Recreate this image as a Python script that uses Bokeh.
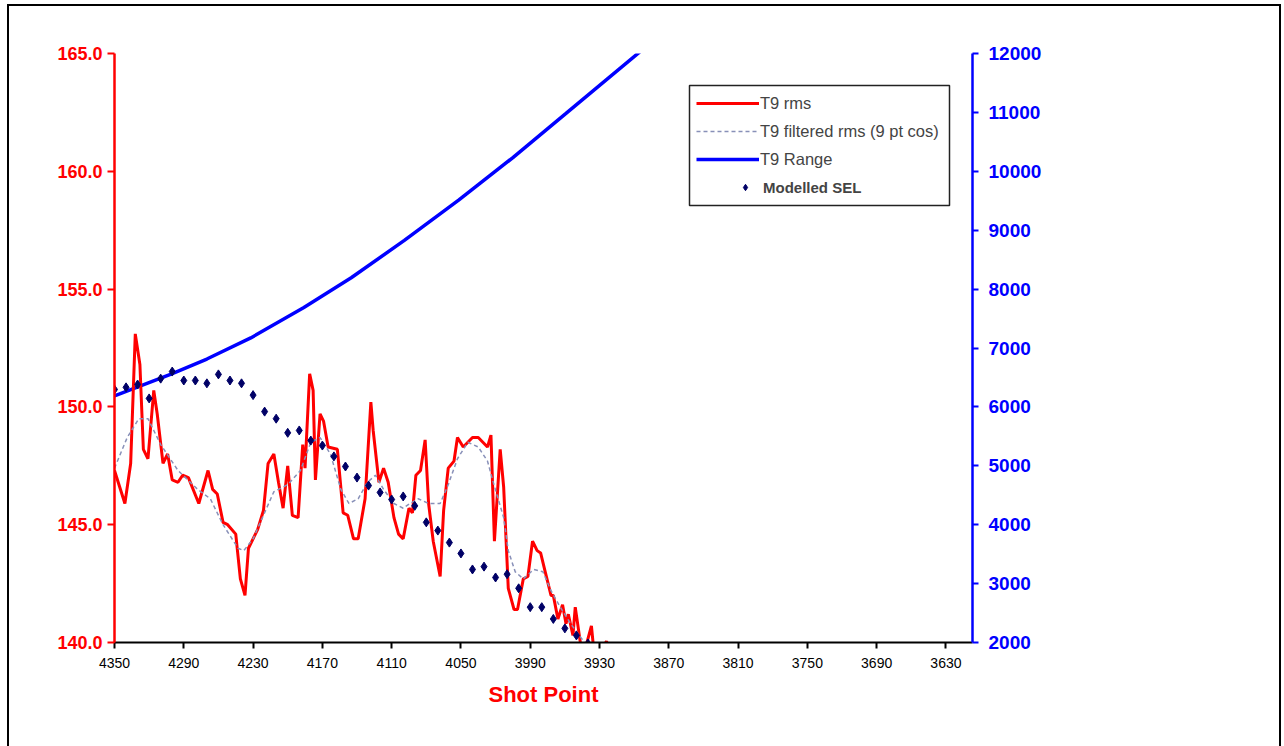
from bokeh.plotting import figure
from bokeh.models import (Range1d, LinearAxis, FixedTicker, PrintfTickFormatter,
                          Legend, LegendItem, BoxAnnotation)
from bokeh.embed import file_html
from bokeh.resources import INLINE

FONT = "Liberation Sans"
RED = "#ff0000"
BLUE = "#0000ff"
NAVY = "#000066"
DASH = "#8890b8"

# ---- data ----
rms_sp = [4350, 4341, 4336, 4332, 4328, 4325, 4321, 4316, 4313, 4308, 4304, 4300, 4295, 4291,
          4286, 4277, 4269, 4265, 4261, 4256, 4252, 4245, 4241, 4237, 4234, 4226, 4221, 4217,
          4212, 4208, 4204, 4200, 4196, 4191, 4187, 4185, 4181, 4178, 4176, 4172, 4169, 4165,
          4157, 4152, 4148, 4143, 4139, 4133, 4128, 4126, 4121, 4117, 4113, 4108, 4104, 4100,
          4095, 4092, 4089, 4085, 4081, 4078, 4074, 4068, 4065, 4061, 4056, 4053, 4048, 4044,
          4040, 4035, 4031, 4027, 4024, 4021, 4016, 4013, 4009, 4004, 4001, 3996, 3992, 3988,
          3984, 3981, 3977, 3972, 3970, 3966, 3962, 3959, 3957, 3953, 3951, 3946, 3942, 3937,
          3935, 3929, 3924, 3920]
rms_db = [147.3, 145.9, 147.6, 153.1, 151.8, 148.2, 147.8, 150.7, 149.7, 147.6, 148.0, 146.9,
          146.8, 147.1, 147.0, 145.9, 147.3, 146.5, 146.3, 145.1, 145.0, 144.6, 142.7, 142.0,
          144.0, 144.8, 145.6, 147.6, 148.0, 146.8, 145.7, 147.5, 145.4, 145.3, 148.4, 147.4,
          151.4, 150.7, 146.9, 149.7, 149.4, 148.3, 148.2, 145.5, 145.4, 144.4, 144.4, 146.1,
          150.2, 149.0, 146.8, 147.4, 146.8, 145.3, 144.6, 144.4, 145.7, 145.5, 147.1, 147.3,
          148.6, 145.9, 144.3, 142.8, 145.6, 147.4, 147.7, 148.7, 148.3, 148.5, 148.7, 148.7,
          148.5, 148.3, 148.8, 144.3, 148.2, 146.6, 142.3, 141.4, 141.4, 142.7, 142.8, 144.3,
          143.9, 143.8, 143.0, 142.0, 142.0, 141.0, 141.6, 140.8, 141.2, 140.3, 141.5, 139.8,
          139.8, 140.7, 139.7, 139.6, 140.05, 139.6]

filt_sp = [4350, 4339, 4329, 4321, 4310, 4295, 4278, 4267, 4256, 4243, 4238, 4230, 4221, 4212,
           4200, 4189, 4180, 4172, 4163, 4154, 4147, 4139, 4131, 4124, 4117, 4108, 4100, 4094,
           4087, 4078, 4068, 4061, 4053, 4044, 4035, 4027, 4022, 4013, 4009, 4003, 3996, 3987,
           3979, 3972, 3964, 3955, 3946, 3938]
filt_db = [147.4, 148.7, 149.5, 149.5, 148.4, 147.3, 146.5, 146.1, 145.0, 144.0, 143.9, 144.4,
           145.4, 146.4, 146.7, 147.3, 148.5, 148.7, 148.0, 146.5, 145.9, 146.1, 146.8, 147.1,
           146.5, 145.9, 145.7, 145.9, 146.1, 145.9, 145.9, 146.7, 147.8, 148.5, 148.3, 147.7,
           146.8, 145.3, 143.9, 143.0, 142.7, 143.1, 143.0, 142.2, 141.5, 140.8, 140.2, 139.7]

range_sp = [4350, 4301, 4270, 4232, 4186, 4145, 4099, 4052, 4005, 3959, 3892]
range_m = [6186, 6555, 6813, 7171, 7688, 8192, 8827, 9512, 10233, 10982, 12078]

sel_sp = [4350, 4340, 4330, 4320, 4310, 4300, 4290, 4280, 4270, 4260, 4250, 4240, 4230, 4220,
          4210, 4200, 4190, 4180, 4170, 4160, 4150, 4140, 4130, 4120, 4110, 4100, 4090, 4080,
          4070, 4060, 4050, 4040, 4030, 4020, 4010, 4000, 3990, 3980, 3970, 3960, 3950, 3940]
sel_db = [150.74, 150.83, 150.95, 150.36, 151.2, 151.5, 151.12, 151.12, 151.0, 151.38, 151.12,
          151.0, 150.5, 149.8, 149.5, 148.9, 149.0, 148.57, 148.36, 147.9, 147.47, 147.0, 146.66,
          146.37, 146.07, 146.2, 145.8, 145.1, 144.75, 144.24, 143.78, 143.1, 143.22, 142.76,
          142.9, 142.3, 141.5, 141.5, 141.0, 140.6, 140.3, 139.96]

x_ticks = [4350, 4290, 4230, 4170, 4110, 4050, 3990, 3930, 3870, 3810, 3750, 3690, 3630]
left_ticks = [140, 145, 150, 155, 160, 165]
right_ticks = [2000, 3000, 4000, 5000, 6000, 7000, 8000, 9000, 10000, 11000, 12000]

labels = ["T9 rms", "T9 filtered rms (9 pt cos)", "T9 Range", "Modelled SEL"]

# ---- figure ----
p = figure(width=1284, height=746, output_backend="svg", toolbar_location=None,
           x_range=Range1d(4350, 3607), y_range=Range1d(140, 165),
           min_border_left=114, min_border_right=312, min_border_top=53, min_border_bottom=104)
p.outline_line_color = None
p.xgrid.visible = False
p.ygrid.visible = False
p.background_fill_color = "white"
p.border_fill_color = None
# thin black frame around the whole picture (drawn behind the transparent canvas border)
p.styles = {
    "background-color": "white",
    "background-image": "linear-gradient(#000,#000), linear-gradient(#000,#000), linear-gradient(#000,#000)",
    "background-size": "2px 800px, 1274px 2px, 2px 800px",
    "background-position": "7px 4px, 7px 4px, 1279px 4px",
    "background-repeat": "no-repeat",
}

p.extra_y_ranges = {"rng": Range1d(2000, 12000), "cy": Range1d(642, 53)}
p.extra_x_ranges = {"cx": Range1d(114, 972)}

# bottom axis
xa = p.xaxis[0]
xa.ticker = FixedTicker(ticks=x_ticks)
xa.axis_line_color = "black"
xa.axis_line_width = 2
xa.major_tick_line_color = "black"
xa.major_tick_line_width = 2
xa.major_tick_out = 6
xa.major_tick_in = 0
xa.minor_tick_line_color = None
xa.major_label_text_font = FONT
xa.major_label_text_font_size = "14px"
xa.major_label_text_color = "black"
xa.major_label_standoff = 9
xa.axis_label = "Shot Point"
xa.axis_label_text_font = FONT
xa.axis_label_text_font_size = "22px"
xa.axis_label_text_font_style = "bold"
xa.axis_label_text_color = RED
xa.axis_label_standoff = 11

# left axis
ya = p.yaxis[0]
ya.ticker = FixedTicker(ticks=left_ticks)
ya.formatter = PrintfTickFormatter(format="%.1f")
ya.axis_line_color = RED
ya.axis_line_width = 2.5
ya.major_tick_line_color = RED
ya.major_tick_line_width = 2
ya.major_tick_out = 7
ya.major_tick_in = 0
ya.minor_tick_line_color = None
ya.major_label_text_font = FONT
ya.major_label_text_font_size = "18px"
ya.major_label_text_font_style = "bold"
ya.major_label_text_color = RED
ya.major_label_standoff = 5

# right axis
ra = LinearAxis(y_range_name="rng", ticker=FixedTicker(ticks=right_ticks))
ra.axis_line_color = BLUE
ra.axis_line_width = 2.5
ra.major_tick_line_color = BLUE
ra.major_tick_line_width = 2
ra.major_tick_out = 6
ra.major_tick_in = 0
ra.minor_tick_line_color = None
ra.major_label_text_font = FONT
ra.major_label_text_font_size = "19px"
ra.major_label_text_font_style = "bold"
ra.major_label_text_color = BLUE
ra.major_label_standoff = 10
p.add_layout(ra, "right")

# series
r_range = p.line(range_sp, range_m, y_range_name="rng", line_color=BLUE, line_width=3.5)
r_rms = p.line(rms_sp, rms_db, line_color=RED, line_width=3)
r_filt = p.line(filt_sp, filt_db, line_color=DASH, line_width=1.5, line_dash="4 3")
r_sel = p.scatter(sel_sp, sel_db, marker="diamond", size=9,
                  fill_color=NAVY, line_color=NAVY, line_width=1)

# legend box
lbox = BoxAnnotation(left=689, right=949, top=85, bottom=205, x_range_name="cx", y_range_name="cy",
                     fill_color="white", fill_alpha=1, line_color="#222222", line_alpha=1,
                     line_width=1.5, line_dash="solid")
p.add_layout(lbox)

leg1 = Legend(items=[LegendItem(label=labels[0], renderers=[r_rms]),
                     LegendItem(label=labels[1], renderers=[r_filt]),
                     LegendItem(label=labels[2], renderers=[r_range])],
              location=(582, 473), orientation="vertical", glyph_width=63, glyph_height=20,
              label_height=20, label_width=170, label_text_font=FONT, label_text_font_size="16.5px",
              label_standoff=1, spacing=8, padding=7, margin=0, border_line_color=None,
              background_fill_alpha=0)
leg2 = Legend(items=[LegendItem(label=labels[3], renderers=[r_sel])],
              location=(623, 445), orientation="vertical", glyph_width=16, glyph_height=20,
              label_height=20, label_text_font=FONT, label_text_font_size="15px",
              label_text_font_style="bold", label_standoff=10, spacing=0, padding=0, margin=0,
              border_line_color=None, background_fill_alpha=0)
p.add_layout(leg1)
p.add_layout(leg2)

open("out.html", "w").write(file_html(p, INLINE))
